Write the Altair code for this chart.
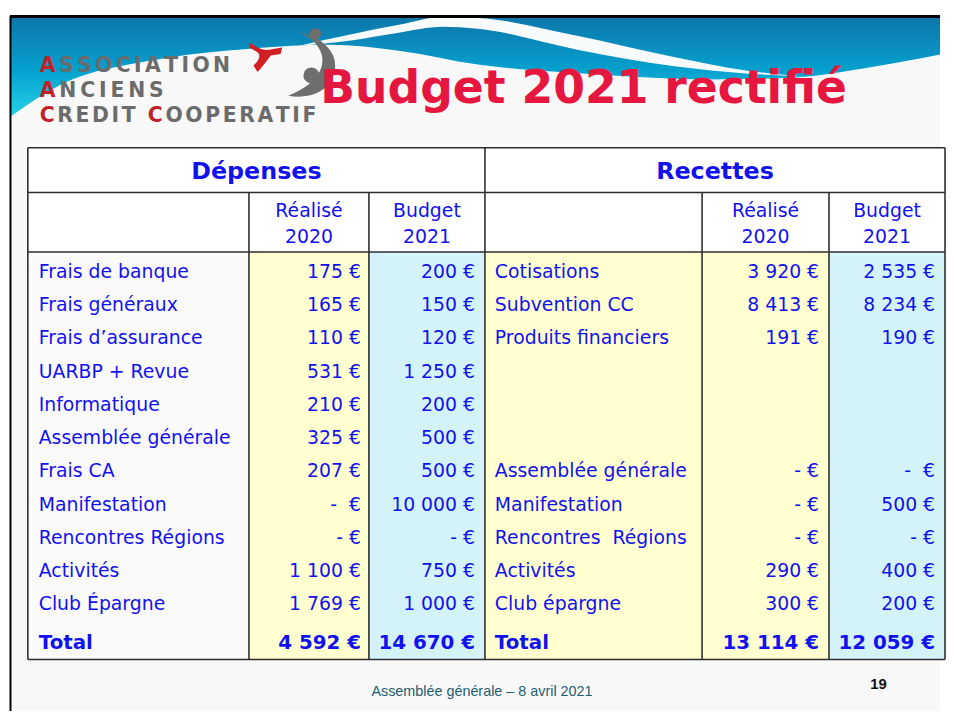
import altair as alt
import pandas as pd

# ------------------------------------------------------------------ data
dep_labels = ["Frais de banque", "Frais généraux", "Frais d’assurance", "UARBP + Revue",
              "Informatique", "Assemblée générale", "Frais CA", "Manifestation",
              "Rencontres Régions", "Activités", "Club Épargne"]
dep_realise = ["175 €", "165 €", "110 €", "531 €", "210 €", "325 €", "207 €",
               "-\u00a0\u00a0€", "- €", "1 100 €", "1 769 €"]
dep_budget = ["200 €", "150 €", "120 €", "1 250 €", "200 €", "500 €", "500 €",
              "10 000 €", "- €", "750 €", "1 000 €"]
rec_labels = ["Cotisations", "Subvention CC", "Produits financiers", "", "", "",
              "Assemblée générale", "Manifestation", "Rencontres\u00a0\u00a0Régions",
              "Activités", "Club épargne"]
rec_realise = ["3 920 €", "8 413 €", "191 €", "", "", "", "- €", "- €", "- €",
               "290 €", "300 €"]
rec_budget = ["2 535 €", "8 234 €", "190 €", "", "", "", "-\u00a0\u00a0€", "500 €",
              "- €", "400 €", "200 €"]
total_label = "Total"
dep_totals = ["4 592 €", "14 670 €"]
rec_totals = ["13 114 €", "12 059 €"]
sections = ["Dépenses", "Recettes"]
col_headers = [("Réalisé", "2020"), ("Budget", "2021")]
title_text = "Budget 2021 rectifié"
logo_lines = ["ASSOCIATION", "ANCIENS", "CREDIT COOPERATIF"]
logo_red = [[0], [0], [0, 7]]
footer_text = "Assemblée générale – 8 avril 2021"
page_number = "19"

# decorative header wave (outline of the slide template)
wave_x = [8, 60, 150, 250, 330, 400, 480, 600, 713, 800, 880, 946]
wave_bottom = [115, 82, 58, 46, 42, 48, 62, 72, 77, 75, 64, 52]
band_x = [300, 350, 400, 444, 480, 580, 680, 750, 810]
band_top = [43, 32, 22, 14, 15, 33, 55, 68, 74]
band_bottom = [43, 38, 30, 24, 26, 47, 64, 71, 74]

# ------------------------------------------------------------------ layout
COL_EDGES = [26, 249, 370, 487, 706, 834, 951]
TABLE_TOP, TITLE_BOTTOM, HEADER_BOTTOM, TABLE_BOTTOM = 146, 191, 251, 662
ROW_BASE0, ROW_STEP, TOTAL_BASE = 277, 33.55, 651
LABEL_X = [37, 497]
VALUE_RIGHT = [362, 477, 824, 941]
BLUE = "#1212EE"
YELLOW = "#FFFFD0"
CYAN = "#D4F3F8"
LINE = "#2E2E2E"
TEXT_FONT = "DejaVu Sans"

XS = alt.Scale(domain=[8, 946], range=[0, 938], nice=False, zero=False)
YS = alt.Scale(domain=[8, 714], range=[0, 706], nice=False, zero=False)


def X(f="x"):
    return alt.X(f"{f}:Q", scale=XS, axis=None)


def Y(f="y"):
    return alt.Y(f"{f}:Q", scale=YS, axis=None)


# ------------------------------------------------------------------ background
slide = alt.Chart(pd.DataFrame([{"x": 8, "x2": 946, "y": 13, "y2": 714}])).mark_rect(
    color="#F8F8F8").encode(x=X(), x2="x2:Q", y=Y(), y2="y2:Q")

wave_df = pd.DataFrame({"x": wave_x, "y": [14] * len(wave_x), "y2": wave_bottom})
wave = alt.Chart(wave_df).mark_area(
    interpolate="monotone",
    color=alt.Gradient(gradient="linear", x1=0, x2=0, y1=0, y2=1,
                       stops=[alt.GradientStop(color="#0E76AA", offset=0),
                              alt.GradientStop(color="#05A2CF", offset=0.55),
                              alt.GradientStop(color="#27D2EA", offset=1)])
).encode(x=X(), y=Y(), y2="y2:Q")

band_df = pd.DataFrame({"x": band_x, "y": band_top, "y2": band_bottom})
band = alt.Chart(band_df).mark_area(interpolate="monotone", color="#F7FBFC").encode(
    x=X(), y=Y(), y2="y2:Q")

frame_df = pd.DataFrame([
    {"x": 8, "x2": 946, "y": 13.5, "y2": 13.5, "w": 3},
    {"x": 8.5, "x2": 8.5, "y": 13, "y2": 714, "w": 2},
])
frame = alt.Chart(frame_df).mark_rule(color="#000000").encode(
    x=X(), x2="x2:Q", y=Y(), y2="y2:Q", strokeWidth=alt.StrokeWidth("w:Q", legend=None, scale=None))

# ------------------------------------------------------------------ logo
W_BOLD = {"A": .774, "C": .734, "D": .830, "E": .683, "F": .683, "I": .372, "N": .837,
          "O": .850, "P": .733, "R": .770, "S": .720, "T": .682, " ": .348}
LOGO_SIZE = 20.5
logo_starts = [38, 38, 38]
logo_ends = [230, 163, 317]
logo_bases = [70, 95, 120]
letters = []
for li, line in enumerate(logo_lines):
    widths = [W_BOLD[c] * LOGO_SIZE for c in line]
    spacing = (logo_ends[li] - logo_starts[li] - sum(widths)) / (len(line) - 1)
    pos = logo_starts[li]
    for ci, ch in enumerate(line):
        if ch != " ":
            letters.append({"t": ch, "x": pos, "y": logo_bases[li],
                            "c": "red" if ci in logo_red[li] else "gray"})
        pos += widths[ci] + spacing
letters_df = pd.DataFrame(letters)
logo_text = alt.Chart(letters_df).mark_text(
    align="left", baseline="alphabetic", font=TEXT_FONT, fontWeight="bold", fontSize=LOGO_SIZE
).encode(x=X(), y=Y(), text="t:N",
         color=alt.Color("c:N", scale=alt.Scale(domain=["red", "gray"], range=["#C21F26", "#6B6B6B"]),
                         legend=None))

RED_FIG = ("M-1,-0.8 C-0.5,-0.45 -0.1,-0.3 0.2,-0.35 L1,-0.5 L0.9,-0.1 L0.3,0 "
           "C0,0.4 -0.3,0.8 -0.5,1 L-0.75,0.6 C-0.4,0.3 -0.3,0 -0.5,-0.2 L-1,-0.5 Z")
GRAY_FIG = ("M-0.3,-1 C0.6,-0.8 1,-0.2 0.7,0.4 C0.5,0.8 0,1 -0.6,0.9 "
            "C-0.1,0.7 0.3,0.4 0.4,0 C0.5,-0.4 0.2,-0.8 -0.3,-1 Z")
logo_shapes = pd.DataFrame([
    {"x": 266, "y": 53, "s": 1100, "c": "#D11F24", "shape": RED_FIG},
    {"x": 309, "y": 63, "s": 4600, "c": "#6E6E6E", "shape": GRAY_FIG},
    {"x": 316, "y": 31, "s": 130, "c": "#6E6E6E", "shape": "circle"},
    {"x": 312, "y": 73, "s": 260, "c": "#6E6E6E", "shape": "circle"},
])
logo_fig = alt.Chart(logo_shapes).mark_point(filled=True, opacity=1, strokeWidth=0).encode(
    x=X(), y=Y(),
    size=alt.Size("s:Q", scale=None, legend=None),
    color=alt.Color("c:N", scale=None, legend=None),
    shape=alt.Shape("shape:N", scale=None, legend=None))

title = alt.Chart(pd.DataFrame([{"t": title_text, "x": 321, "y": 101}])).mark_text(
    align="left", baseline="alphabetic", font=TEXT_FONT, fontWeight="bold",
    fontSize=46, color="#E5173F").encode(x=X(), y=Y(), text="t:N")

# ------------------------------------------------------------------ table cells
cells = [{"x": COL_EDGES[0], "x2": COL_EDGES[-1], "y": TABLE_TOP, "y2": TABLE_BOTTOM, "c": "#FFFFFF"}]
fills = [YELLOW, CYAN, YELLOW, YELLOW, CYAN]
for i, f in enumerate(fills):
    cells.append({"x": COL_EDGES[i + 1], "x2": COL_EDGES[i + 2], "y": HEADER_BOTTOM,
                  "y2": TABLE_BOTTOM, "c": f})
cells.append({"x": COL_EDGES[0], "x2": COL_EDGES[1], "y": HEADER_BOTTOM, "y2": TABLE_BOTTOM,
              "c": "#FAFAFA"})
cell_layer = alt.Chart(pd.DataFrame(cells)).mark_rect().encode(
    x=X(), x2="x2:Q", y=Y(), y2="y2:Q", color=alt.Color("c:N", scale=None, legend=None))

L, R = COL_EDGES[0], COL_EDGES[-1]
segs = [
    (L, TABLE_TOP, R, TABLE_TOP), (L, TABLE_BOTTOM, R, TABLE_BOTTOM),
    (L, TABLE_TOP, L, TABLE_BOTTOM), (R, TABLE_TOP, R, TABLE_BOTTOM),
    (L, TITLE_BOTTOM, R, TITLE_BOTTOM), (L, HEADER_BOTTOM, R, HEADER_BOTTOM),
    (COL_EDGES[3], TABLE_TOP, COL_EDGES[3], TABLE_BOTTOM),
]
for ci in (1, 2, 4, 5):
    segs.append((COL_EDGES[ci], TITLE_BOTTOM, COL_EDGES[ci], TABLE_BOTTOM))
seg_df = pd.DataFrame(segs, columns=["x", "y", "x2", "y2"])
grid = alt.Chart(seg_df).mark_rule(color=LINE, strokeWidth=1.6).encode(
    x=X(), y=Y(), x2="x2:Q", y2="y2:Q")

# ------------------------------------------------------------------ table texts
sec_rows = [{"t": s, "x": (COL_EDGES[3 * i] + COL_EDGES[3 * i + 3]) / 2, "y": 177}
            for i, s in enumerate(sections)]
sec_layer = alt.Chart(pd.DataFrame(sec_rows)).mark_text(
    align="center", baseline="alphabetic", font=TEXT_FONT, fontWeight="bold", fontSize=24,
    color=BLUE).encode(x=X(), y=Y(), text="t:N")

head_rows = []
for ci in (1, 2, 4, 5):
    top, bottom = col_headers[(ci - 1) % 3 if ci < 3 else ci - 4]
    cx = (COL_EDGES[ci] + COL_EDGES[ci + 1]) / 2
    head_rows.append({"t": top, "x": cx, "y": 216})
    head_rows.append({"t": bottom, "x": cx, "y": 242})
head_layer = alt.Chart(pd.DataFrame(head_rows)).mark_text(
    align="center", baseline="alphabetic", font=TEXT_FONT, fontSize=19,
    color=BLUE).encode(x=X(), y=Y(), text="t:N")

lab_rows, val_rows = [], []
for i in range(len(dep_labels)):
    yb = ROW_BASE0 + ROW_STEP * i
    lab_rows.append({"t": dep_labels[i], "x": LABEL_X[0], "y": yb})
    lab_rows.append({"t": rec_labels[i], "x": LABEL_X[1], "y": yb})
    for vx, vals in zip(VALUE_RIGHT, (dep_realise, dep_budget, rec_realise, rec_budget)):
        val_rows.append({"t": vals[i], "x": vx, "y": yb})
lab_df = pd.DataFrame(lab_rows)
lab_df = lab_df[lab_df.t != ""]
val_df = pd.DataFrame(val_rows)
val_df = val_df[val_df.t != ""]
lab_layer = alt.Chart(lab_df).mark_text(
    align="left", baseline="alphabetic", font=TEXT_FONT, fontSize=19, color=BLUE).encode(
    x=X(), y=Y(), text="t:N")
val_layer = alt.Chart(val_df).mark_text(
    align="right", baseline="alphabetic", font=TEXT_FONT, fontSize=19, color=BLUE).encode(
    x=X(), y=Y(), text="t:N")

tot_lab = pd.DataFrame([{"t": total_label, "x": LABEL_X[0], "y": TOTAL_BASE},
                        {"t": total_label, "x": LABEL_X[1], "y": TOTAL_BASE}])
tot_val = pd.DataFrame([{"t": v, "x": vx, "y": TOTAL_BASE}
                        for v, vx in zip(dep_totals + rec_totals, VALUE_RIGHT)])
tot_lab_layer = alt.Chart(tot_lab).mark_text(
    align="left", baseline="alphabetic", font=TEXT_FONT, fontWeight="bold", fontSize=20,
    color=BLUE).encode(x=X(), y=Y(), text="t:N")
tot_val_layer = alt.Chart(tot_val).mark_text(
    align="right", baseline="alphabetic", font=TEXT_FONT, fontWeight="bold", fontSize=20,
    color=BLUE).encode(x=X(), y=Y(), text="t:N")

# ------------------------------------------------------------------ footer
footer = alt.Chart(pd.DataFrame([{"t": footer_text, "x": 484, "y": 699}])).mark_text(
    align="center", baseline="alphabetic", font="Liberation Sans", fontSize=14.5,
    color="#1E5E72").encode(x=X(), y=Y(), text="t:N")
pnum = alt.Chart(pd.DataFrame([{"t": page_number, "x": 884, "y": 692}])).mark_text(
    align="center", baseline="alphabetic", font="Liberation Sans", fontWeight="bold",
    fontSize=15, color="#111111").encode(x=X(), y=Y(), text="t:N")

chart = alt.layer(
    slide, wave, band, frame, logo_fig, logo_text, title,
    cell_layer, grid, sec_layer, head_layer, lab_layer, val_layer,
    tot_lab_layer, tot_val_layer, footer, pnum
).properties(width=938, height=706, padding=0, background="#FFFFFF").configure_view(stroke=None)

chart.save("out.html", embed_options={"renderer": "svg", "actions": False})
